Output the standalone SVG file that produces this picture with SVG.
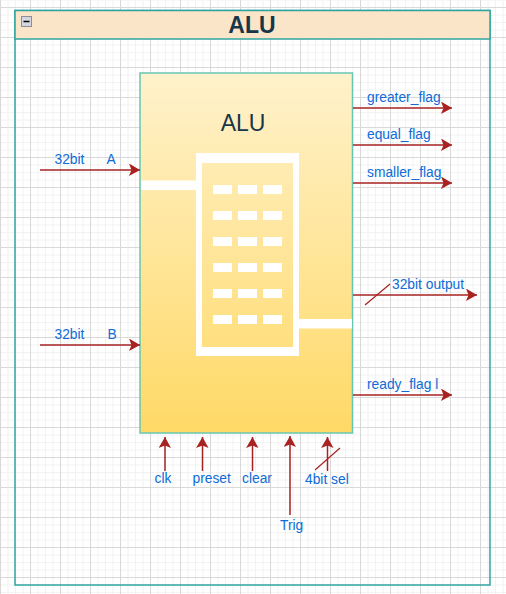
<svg xmlns="http://www.w3.org/2000/svg" width="506" height="594" viewBox="0 0 506 594">
<style>
.lbl{font-family:"Liberation Sans",Arial,sans-serif;font-size:13.800px;fill:#0e6bd8}
.wire{fill:none;stroke:#a82222;stroke-width:1.500;marker-end:url(#arr)}
.tick{fill:none;stroke:#a82222;stroke-width:1.200}
.win{fill:#fff}
</style>
<defs>
<pattern id="grid" patternUnits="userSpaceOnUse" x="0" y="7" width="30" height="30">
<path d="M8 0V30M15.500 0V30M23 0V30M0 8H30M0 15.500H30M0 23H30" fill="none" stroke="#f2f2f2" stroke-width="1"/>
<path d="M0.500 0V30M0 0.500H30" fill="none" stroke="#d9d9d9" stroke-width="1"/>
</pattern>
<linearGradient id="body" x1="0" y1="0" x2="0" y2="1"><stop offset="0" stop-color="#fff2cc"/><stop offset="1" stop-color="#ffd966"/></linearGradient>
<marker id="arr" markerUnits="userSpaceOnUse" markerWidth="12" markerHeight="14" refX="11" refY="6.500" orient="auto"><path d="M0 0L11 6.500L0 12.500L2.500 6.500Z" fill="#a82222"/></marker>
</defs>
<rect id="background" width="506" height="594" fill="#fff"/>
<rect id="grid-layer" width="506" height="594" fill="url(#grid)"/>
<g id="panel">
<rect x="15" y="10.500" width="475" height="574.500" fill="none" stroke="#2fa5a0" stroke-width="1.500"/>
<rect x="15" y="10.500" width="475" height="28.500" fill="#fbe5c8" stroke="#2fa5a0" stroke-width="1.500"/>
<rect x="21.500" y="16.500" width="10" height="10" fill="#d3d6de" stroke="#8a8f9c" stroke-width="1"/>
<path d="M23.500 21.500H29.500" stroke="#000" stroke-width="1.500"/>
<text x="252" y="33" text-anchor="middle" font-family="Liberation Sans,Arial,sans-serif" font-size="23" font-weight="700" fill="#17364a">ALU</text>
</g>
<g id="alu">
<rect x="140" y="73" width="212.500" height="360" fill="url(#body)" stroke="#67c6b3" stroke-width="1.500"/>
<text x="243" y="131" text-anchor="middle" font-family="Liberation Sans,Arial,sans-serif" font-size="23" fill="#17364a">ALU</text>
<path d="M196 153H299V356H196ZM202 163V347H293V163Z" fill="#fff" fill-rule="evenodd"/>
<rect x="141" y="180.500" width="55" height="9.500" fill="#fff"/>
<rect x="299" y="319" width="53" height="9.500" fill="#fff"/>
<g class="win">
<rect x="213" y="185" width="19" height="9"/><rect x="238" y="185" width="19" height="9"/><rect x="263" y="185" width="19" height="9"/>
<rect x="213" y="211" width="19" height="9"/><rect x="238" y="211" width="19" height="9"/><rect x="263" y="211" width="19" height="9"/>
<rect x="213" y="237" width="19" height="9"/><rect x="238" y="237" width="19" height="9"/><rect x="263" y="237" width="19" height="9"/>
<rect x="213" y="263" width="19" height="9"/><rect x="238" y="263" width="19" height="9"/><rect x="263" y="263" width="19" height="9"/>
<rect x="213" y="289" width="19" height="9"/><rect x="238" y="289" width="19" height="9"/><rect x="263" y="289" width="19" height="9"/>
<rect x="213" y="315" width="19" height="9"/><rect x="238" y="315" width="19" height="9"/><rect x="263" y="315" width="19" height="9"/>
</g>
</g>
<g id="connectors">
<path class="wire" d="M40 170H140"/>
<path class="wire" d="M40 345H140"/>
<path class="wire" d="M353 108H452"/>
<path class="wire" d="M353 145H452"/>
<path class="wire" d="M353 183H452"/>
<path class="wire" d="M353 295H477"/>
<path class="wire" d="M353 395H452"/>
<path class="wire" d="M165 471V437"/>
<path class="wire" d="M202.500 471V437"/>
<path class="wire" d="M252.500 471V437"/>
<path class="wire" d="M290 515V436"/>
<path class="wire" d="M327.500 471V437"/>
</g>
<g id="ticks">
<path class="tick" d="M365 305L390 284"/>
<path class="tick" d="M315 470L340 448"/>
</g>
<g id="labels">
<text class="lbl" x="54.500" y="164">32bit</text>
<text class="lbl" x="106.500" y="164">A</text>
<text class="lbl" x="54.500" y="339">32bit</text>
<text class="lbl" x="107.500" y="339">B</text>
<text class="lbl" x="367" y="102">greater_flag</text>
<text class="lbl" x="367" y="139">equal_flag</text>
<text class="lbl" x="367" y="177">smaller_flag</text>
<text class="lbl" x="392" y="289">32bit output</text>
<text class="lbl" x="367" y="389">ready_flag l</text>
<text class="lbl" x="154.500" y="483">clk</text>
<text class="lbl" x="192.500" y="483">preset</text>
<text class="lbl" x="242" y="483">clear</text>
<text class="lbl" x="280" y="530">Trig</text>
<text class="lbl" x="305" y="484">4bit sel</text>
</g>
</svg>
